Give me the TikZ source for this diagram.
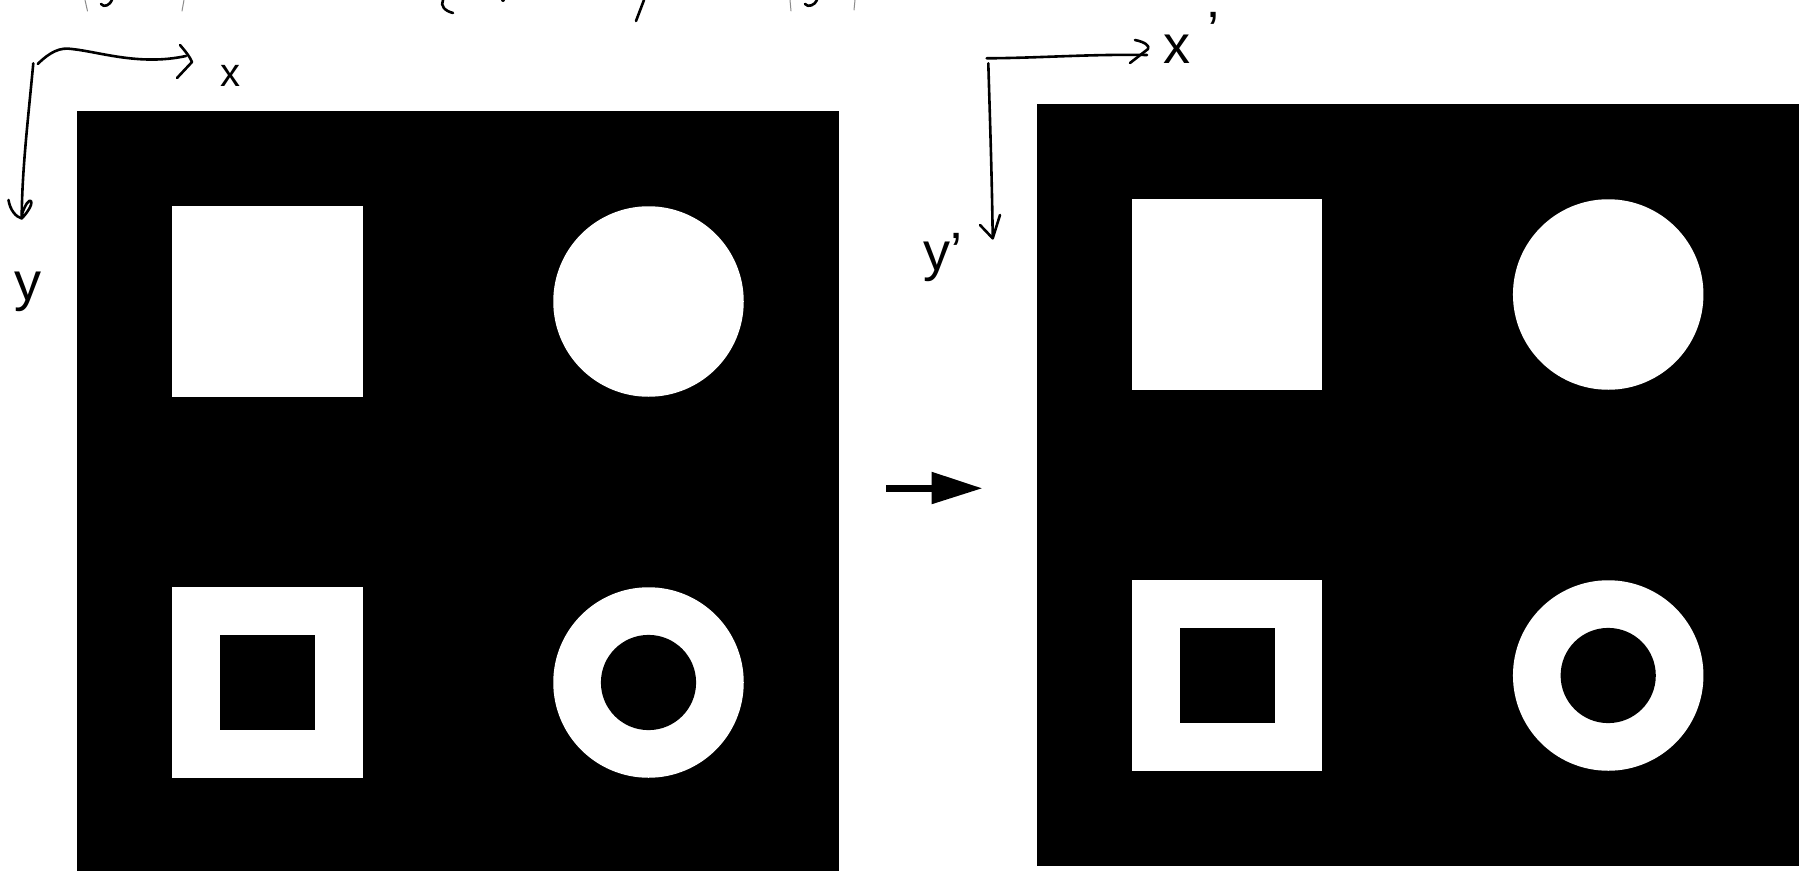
\documentclass[tikz,border=0pt]{standalone}
\usepackage{fontspec}
\setmainfont{Liberation Sans}
\newcommand\drawpanelshapes[2]{%
  \begin{scope}[shift={(#1,#2)}]
    \fill[white] (95.25,95.25) rectangle (285.75,285.75);
    \fill[white] (571.5,190.5) circle[radius=95.25];
    \fill[white] (95.25,476.25) rectangle (285.75,666.75);
    \fill[black] (142.9,523.9) rectangle (238.1,619.1);
    \fill[white] (571.5,571.5) circle[radius=95.25];
    \fill[black] (571.5,571.5) circle[radius=47.6];
  \end{scope}}
\begin{document}
\begin{tikzpicture}[x=1bp,y=-1bp,
  hand/.style={line width=2.6bp, line cap=round, line join=round},
  faint/.style={line width=1bp, black!45, line cap=round},
  lbl/.style={inner sep=0pt, font=\fontsize{40bp}{40bp}\selectfont},
  biglbl/.style={inner sep=0pt, font=\fontsize{54bp}{54bp}\selectfont}]
\useasboundingbox (0,0) rectangle (1801,871);
\fill[white] (0,0) rectangle (1801,871);

% panels
\fill[black] (77,111) rectangle (839,871);
\drawpanelshapes{77}{111}
\fill[black] (1036.7,104) rectangle (1798.7,866);
\drawpanelshapes{1036.7}{104}

% transform arrow
\fill[black] (886,484.7) rectangle (932,492.3);
\fill[black] (931.5,471.7) -- (981.7,488.3) -- (931.5,504.3) -- cycle;

% cropped fragments along the top edge
\draw[faint] (85,0) -- (87.5,11);
\draw[faint] (184,0) -- (182,11);
\draw[hand] (112,0) .. controls (110,5) and (104,8) .. (101,4);
\draw[hand] (443,0) .. controls (440,6) and (445,11) .. (453,13);
\fill[black] (503,0) circle[radius=2];
\draw[hand] (644,0) -- (636,21);
\draw[faint] (790,0) -- (791,11);
\draw[hand] (817,0) .. controls (815,5) and (808,8) .. (805,4);
\draw[faint] (855,0) -- (854,10);

% left hand-drawn axes
\draw[hand] (33.3,63.3) .. controls (28,120) and (22,170) .. (21.7,218);
\draw[hand] (8.5,200) .. controls (10,210) and (16,217) .. (21.7,218.5)
  .. controls (26,214) and (33,205) .. (31,201) .. controls (29,199) and (25,205) .. (22,214);
\draw[hand] (37.7,64) .. controls (50,52) and (60,47) .. (72,49)
  .. controls (100,52) and (140,66) .. (186,56);
\draw[hand] (180,45) .. controls (186,52) and (190,57) .. (192,62) -- (177,78);
\node[lbl] (labx) at (230,76) {x};
\node[biglbl] (laby) at (28,292) {y};

% right hand-drawn axes
\draw[hand] (986.7,58.3) .. controls (1040,58) and (1090,54) .. (1147,55);
\draw[hand] (1135,40) .. controls (1145,42) and (1150,46) .. (1148,49) -- (1130,63);
\draw[hand] (988.3,63.3) .. controls (990,120) and (992,180) .. (992.7,238);
\draw[hand] (980,225) -- (992.7,238.3) -- (1000,215);
\node[biglbl, anchor=base west] (labxp) at (1163,63) {x\kern17bp\raisebox{14bp}{'}};
\node[biglbl] (labyp) at (943,258) {y'};
\end{tikzpicture}
\end{document}
